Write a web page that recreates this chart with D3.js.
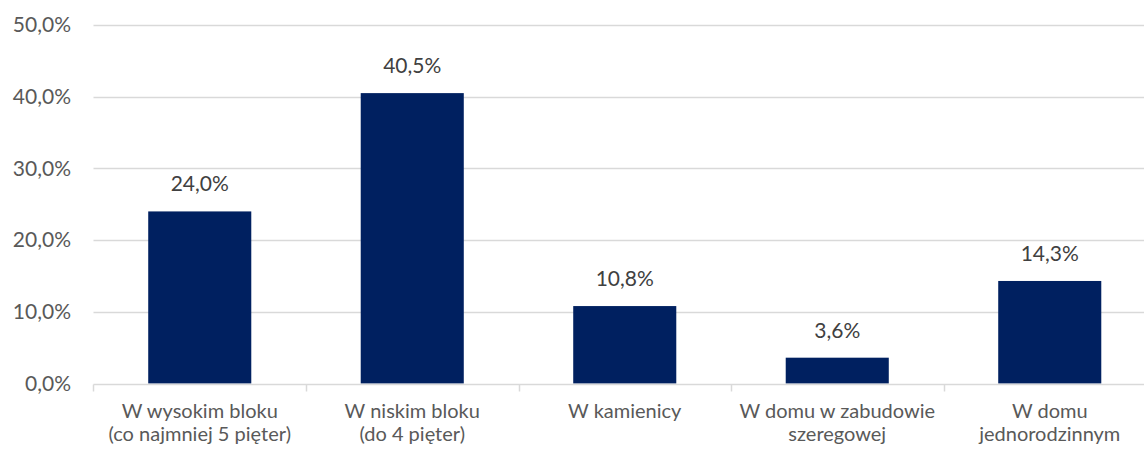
<!DOCTYPE html>
<html>
<head>
<meta charset="utf-8">
<script src="https://cdn.jsdelivr.net/npm/d3@7"></script>
<style>
html,body{margin:0;padding:0;background:#fff;}
svg{display:block;}
text{font-family:Lato,"Open Sans",sans-serif;}
</style>
</head>
<body>
<svg id="chart" width="1144" height="449"></svg>
<script>
const categories = [
  ["W wysokim bloku", "(co najmniej 5 pięter)"],
  ["W niskim bloku", "(do 4 pięter)"],
  ["W kamienicy"],
  ["W domu w zabudowie", "szeregowej"],
  ["W domu", "jednorodzinnym"]
];
const values = [0.240, 0.405, 0.108, 0.036, 0.143];
const yTicks = [0, 0.1, 0.2, 0.3, 0.4, 0.5];

const W = 1144, H = 449;
const svg = d3.select("#chart");
const fmt = v => d3.format(".1f")(v * 100).replace(".", ",") + "%";

const x = d3.scaleBand()
  .domain(d3.range(categories.length))
  .range([93.5, 1156])
  .paddingInner(0.515)
  .paddingOuter(0.2575);
const y = d3.scaleLinear().domain([0, 0.5]).range([383.5, 25]);

// gridlines
svg.append("g").selectAll("line")
  .data(yTicks.filter(d => d > 0))
  .join("line")
  .attr("x1", 93.5).attr("x2", W)
  .attr("y1", d => Math.round(y(d)) + 0.5).attr("y2", d => Math.round(y(d)) + 0.5)
  .attr("stroke", "#d9d9d9").attr("stroke-width", 1.5);

// y axis labels
const yAxis = d3.axisLeft(y).tickValues(yTicks).tickFormat(fmt).tickSize(0).tickPadding(0);
const gy = svg.append("g").attr("transform", "translate(71,0)").call(yAxis);
gy.select(".domain").remove();
gy.selectAll("text").attr("fill", "#595959").style("font-size", "21px")
  .style("font-family", "Lato, 'Open Sans', sans-serif");

// bars
svg.append("g").selectAll("rect")
  .data(values)
  .join("rect")
  .attr("x", (d, i) => x(i))
  .attr("width", x.bandwidth())
  .attr("y", d => y(d))
  .attr("height", d => y(0) - y(d))
  .attr("fill", "#002060");

// value labels
svg.append("g").selectAll("text")
  .data(values)
  .join("text")
  .attr("x", (d, i) => x(i) + x.bandwidth() / 2)
  .attr("y", d => y(d) - 20)
  .attr("text-anchor", "middle")
  .attr("fill", "#404040")
  .style("font-size", "21px")
  .text(fmt);

// x axis line and ticks
const base = Math.round(y(0)) + 0.5;
svg.append("line")
  .attr("x1", 93.5).attr("x2", W)
  .attr("y1", base).attr("y2", base)
  .attr("stroke", "#d9d9d9").attr("stroke-width", 1.5);
const step = x.step();
const half = (step - x.bandwidth()) / 2;
const bounds = d3.range(categories.length).map(i => x(i) - half);
svg.append("g").selectAll("line")
  .data(bounds)
  .join("line")
  .attr("x1", d => Math.round(d) + 0.5).attr("x2", d => Math.round(d) + 0.5)
  .attr("y1", base).attr("y2", base + 7)
  .attr("stroke", "#d9d9d9").attr("stroke-width", 1.5);

// x labels
const gx = svg.append("g");
categories.forEach((lines, i) => {
  const cx = x(i) + x.bandwidth() / 2;
  const t = gx.append("text")
    .attr("x", cx)
    .attr("y", 418)
    .attr("text-anchor", "middle")
    .attr("fill", "#595959")
    .style("font-size", "20px");
  lines.forEach((l, j) => {
    t.append("tspan").attr("x", cx).attr("dy", j === 0 ? 0 : 23).text(l);
  });
});
</script>
</body>
</html>
